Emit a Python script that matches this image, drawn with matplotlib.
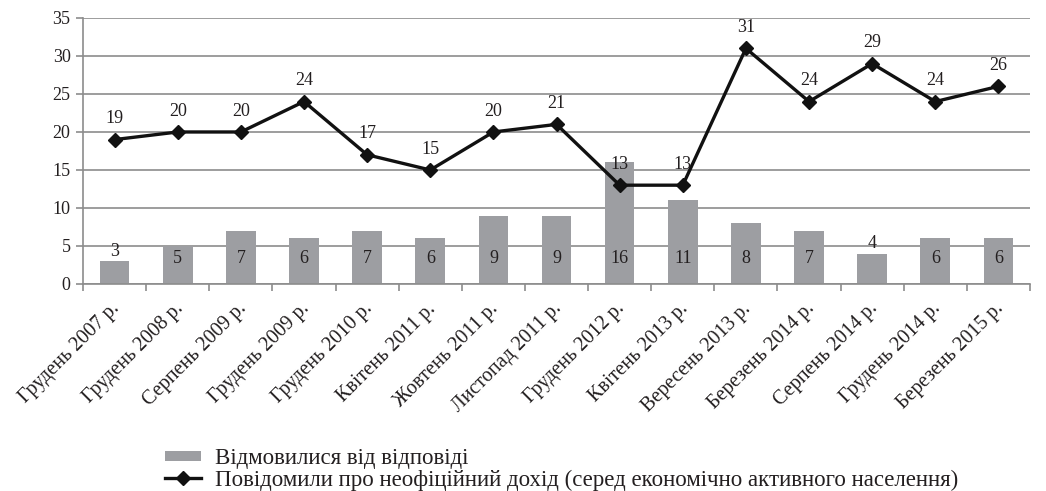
import matplotlib.pyplot as plt
import numpy as np
from matplotlib.lines import Line2D

plt.rcParams["font.family"] = ["Liberation Serif", "DejaVu Serif"]

# Data
categories = [
    "Грудень 2007 р.", "Грудень 2008 р.", "Серпень 2009 р.", "Грудень 2009 р.",
    "Грудень 2010 р.", "Квітень 2011 р.", "Жовтень 2011 р.", "Листопад 2011 р.",
    "Грудень 2012 р.", "Квітень 2013 р.", "Вересень 2013 р.", "Березень 2014 р.",
    "Серпень 2014 р.", "Грудень 2014 р.", "Березень 2015 р.",
]
refused = [3, 5, 7, 6, 7, 6, 9, 9, 16, 11, 8, 7, 4, 6, 6]
informal_income = [19, 20, 20, 24, 17, 15, 20, 21, 13, 13, 31, 24, 29, 24, 26]

bar_label = "Відмовилися від відповіді"
line_label = "Повідомили про неофіційний дохід (серед економічно активного населення)"

BAR_COLOR = "#9d9ea2"
GRID_COLOR = "#8c8c8c"
TEXT_COLOR = "#231f20"
LINE_COLOR = "#111111"

fig = plt.figure(figsize=(10.46, 4.91), dpi=100)
ax = fig.add_axes([0.0794, 0.4216, 0.9053, 0.5418])

x = np.arange(len(categories))
ax.bar(x, refused, width=0.47, color=BAR_COLOR, zorder=2)
ax.plot(x, informal_income, color=LINE_COLOR, lw=2.4, marker="D", ms=6.8,
        zorder=3)

# bar value labels: inside near the bottom, above the bar if it is short
for xi, v in zip(x, refused):
    if v >= 5:
        ax.text(xi, 3.4, str(v), ha="center", va="center", fontsize=13,
                color=TEXT_COLOR, zorder=4)
    else:
        ax.annotate(str(v), (xi, v), xytext=(0, 7), textcoords="offset points",
                    ha="center", va="center", fontsize=13, color=TEXT_COLOR,
                    zorder=4)

# line value labels
for xi, v in zip(x, informal_income):
    ax.annotate(str(v), (xi, v), xytext=(0, 15), textcoords="offset points",
                ha="center", va="center", fontsize=13, color=TEXT_COLOR,
                zorder=4)

ax.set_ylim(0, 35)
ax.set_yticks(range(0, 36, 5))
ax.set_xlim(-0.5, len(categories) - 0.5)
ax.yaxis.grid(True, color=GRID_COLOR, lw=1.2, zorder=0)
ax.set_axisbelow(True)

# ticks at category boundaries, labels rotated and ending at the category
ax.set_xticks(np.arange(-0.5, len(categories), 1.0))
ax.set_xticklabels([])
ax.tick_params(axis="x", length=5, color=GRID_COLOR, width=1.2)
ax.tick_params(axis="y", length=5, color=GRID_COLOR, width=1.2, pad=4,
               labelsize=13, labelcolor=TEXT_COLOR)
for xi, lab in zip(x, categories):
    ax.annotate(lab, (xi, 0), xycoords=("data", "axes fraction"),
                xytext=(-3, -11), textcoords="offset points",
                rotation=45, ha="right", va="top", rotation_mode="anchor",
                fontsize=14.5, color=TEXT_COLOR)

for side in ("top", "right"):
    ax.spines[side].set_visible(False)
for side in ("left", "bottom"):
    ax.spines[side].set_color(GRID_COLOR)
    ax.spines[side].set_linewidth(1.2)

handles = [
    Line2D([0], [0], color=BAR_COLOR, lw=7.2, solid_capstyle="butt"),
    Line2D([0], [0], color=LINE_COLOR, lw=2.4, marker="D", ms=6.8),
]
leg = fig.legend(handles, [bar_label, line_label], loc="lower left",
                 bbox_to_anchor=(0.158, 0.0), frameon=False,
                 prop={"family": ["Liberation Serif"], "size": 16.5},
                 borderpad=0, borderaxespad=0, handlelength=1.55,
                 handletextpad=0.6, labelspacing=0.05)
for t in leg.get_texts():
    t.set_color(TEXT_COLOR)

fig.savefig("out.png", dpi=100)
